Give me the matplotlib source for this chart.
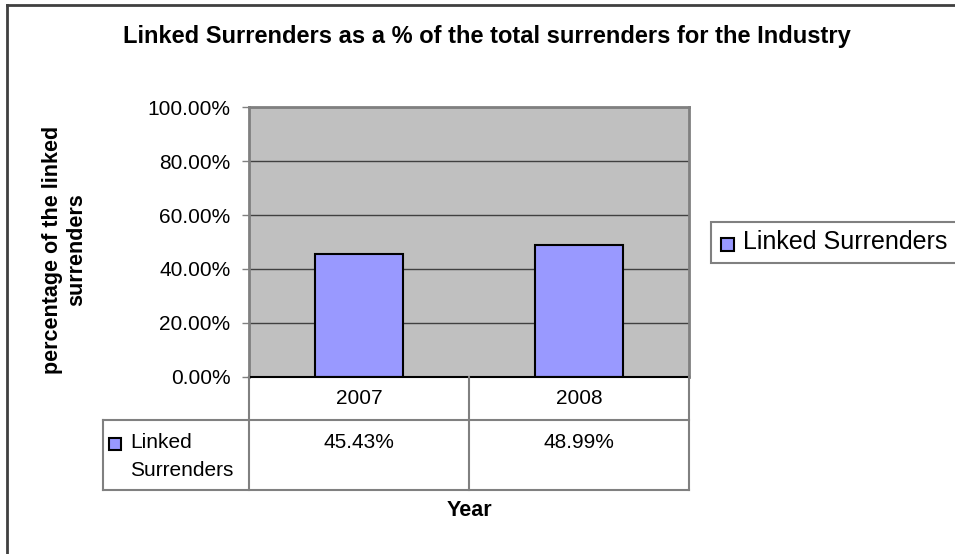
import matplotlib.pyplot as plt
from matplotlib.lines import Line2D
from matplotlib.patches import Rectangle

plt.rcParams['font.family'] = ['Liberation Sans', 'DejaVu Sans']

years = ["2007", "2008"]
linked_pct = [45.43, 48.99]
series_name = "Linked Surrenders"
y_ticks = [0, 20, 40, 60, 80, 100]

W, H = 955, 554
fig = plt.figure(figsize=(W / 100, H / 100), dpi=100)


def fx(px):
    return px / W


def fy(py):
    return 1 - py / H


# plot area in pixels
left, right, top, zero = 249, 689, 107, 377
ax = fig.add_axes([fx(left), fy(zero), fx(right - left), (zero - top) / H])
ax.set_facecolor("#C0C0C0")

x = range(len(years))
ax.bar(x, linked_pct, width=0.4, color="#9999FF", edgecolor="black",
       linewidth=1.5, zorder=3)
ax.set_xlim(-0.5, len(years) - 0.5)
ax.set_ylim(0, 100)
ax.set_yticks(y_ticks)
ax.set_yticklabels([f"{t:.2f}%" for t in y_ticks], fontsize=15)
ax.set_xticks([])
ax.yaxis.grid(True, color="#404040", linewidth=1)
ax.set_axisbelow(True)
ax.tick_params(axis="y", length=5, width=1, color="#808080", pad=8.5)
for side in ["top", "right", "left"]:
    ax.spines[side].set_color("#808080")
    ax.spines[side].set_linewidth(2)
ax.spines["bottom"].set_color("black")
ax.spines["bottom"].set_linewidth(1.5)
ax.spines["bottom"].set_zorder(4)


def hline(y, x0, x1, c="#808080", lw=1.5):
    fig.add_artist(Line2D([fx(x0), fx(x1)], [fy(y), fy(y)], color=c, lw=lw))


def vline(xp, y0, y1, c="#808080", lw=1.5):
    fig.add_artist(Line2D([fx(xp), fx(xp)], [fy(y0), fy(y1)], color=c, lw=lw))


# data table under the axis
row1, row2 = 420, 490
tab_left = 103
col_w = (right - left) / len(years)
for i in range(len(years) + 1):
    vline(left + i * col_w, zero, row2)
vline(tab_left, row1, row2)
hline(row1, tab_left, right)
hline(row2, tab_left, right)

for i, (yr, v) in enumerate(zip(years, linked_pct)):
    cx = left + (i + 0.5) * col_w
    fig.text(fx(cx), fy(398), yr, ha="center", va="center", fontsize=15)
    fig.text(fx(cx), fy(442), f"{v:.2f}%", ha="center", va="center", fontsize=15)

fig.add_artist(Rectangle((fx(109), fy(450)), fx(12), 12 / H, facecolor="#9999FF",
                         edgecolor="black", lw=1.5))
fig.text(fx(130), fy(442), "Linked", ha="left", va="center", fontsize=15)
fig.text(fx(130), fy(471), "Surrenders", ha="left", va="center", fontsize=15)

# legend on the right
fig.add_artist(Rectangle((fx(711), fy(263)), fx(260), 41 / H, facecolor="white",
                         edgecolor="#808080", lw=1.5))
fig.add_artist(Rectangle((fx(721), fy(251)), fx(13), 13 / H, facecolor="#9999FF",
                         edgecolor="black", lw=1.5))
fig.text(fx(743), fy(242), series_name, ha="left", va="center", fontsize=18)

# titles
fig.text(fx(487), fy(37), "Linked Surrenders as a % of the total surrenders for the Industry",
         ha="center", va="center", fontsize=17, fontweight="bold")
fig.text(fx(469), fy(510), "Year", ha="center", va="center", fontsize=15.5,
         fontweight="bold")
fig.text(fx(65), fy(250), "percentage of the linked\nsurrenders", ha="center",
         va="center", rotation=90, fontsize=15.5, fontweight="bold", linespacing=1.2)

# outer chart border (right and bottom run off the image)
fig.add_artist(Line2D([fx(7), fx(7)], [fy(5), fy(560)], color="#404040", lw=2))
fig.add_artist(Line2D([fx(7), fx(960)], [fy(5), fy(5)], color="#404040", lw=2))

fig.savefig("out.png", dpi=100)
